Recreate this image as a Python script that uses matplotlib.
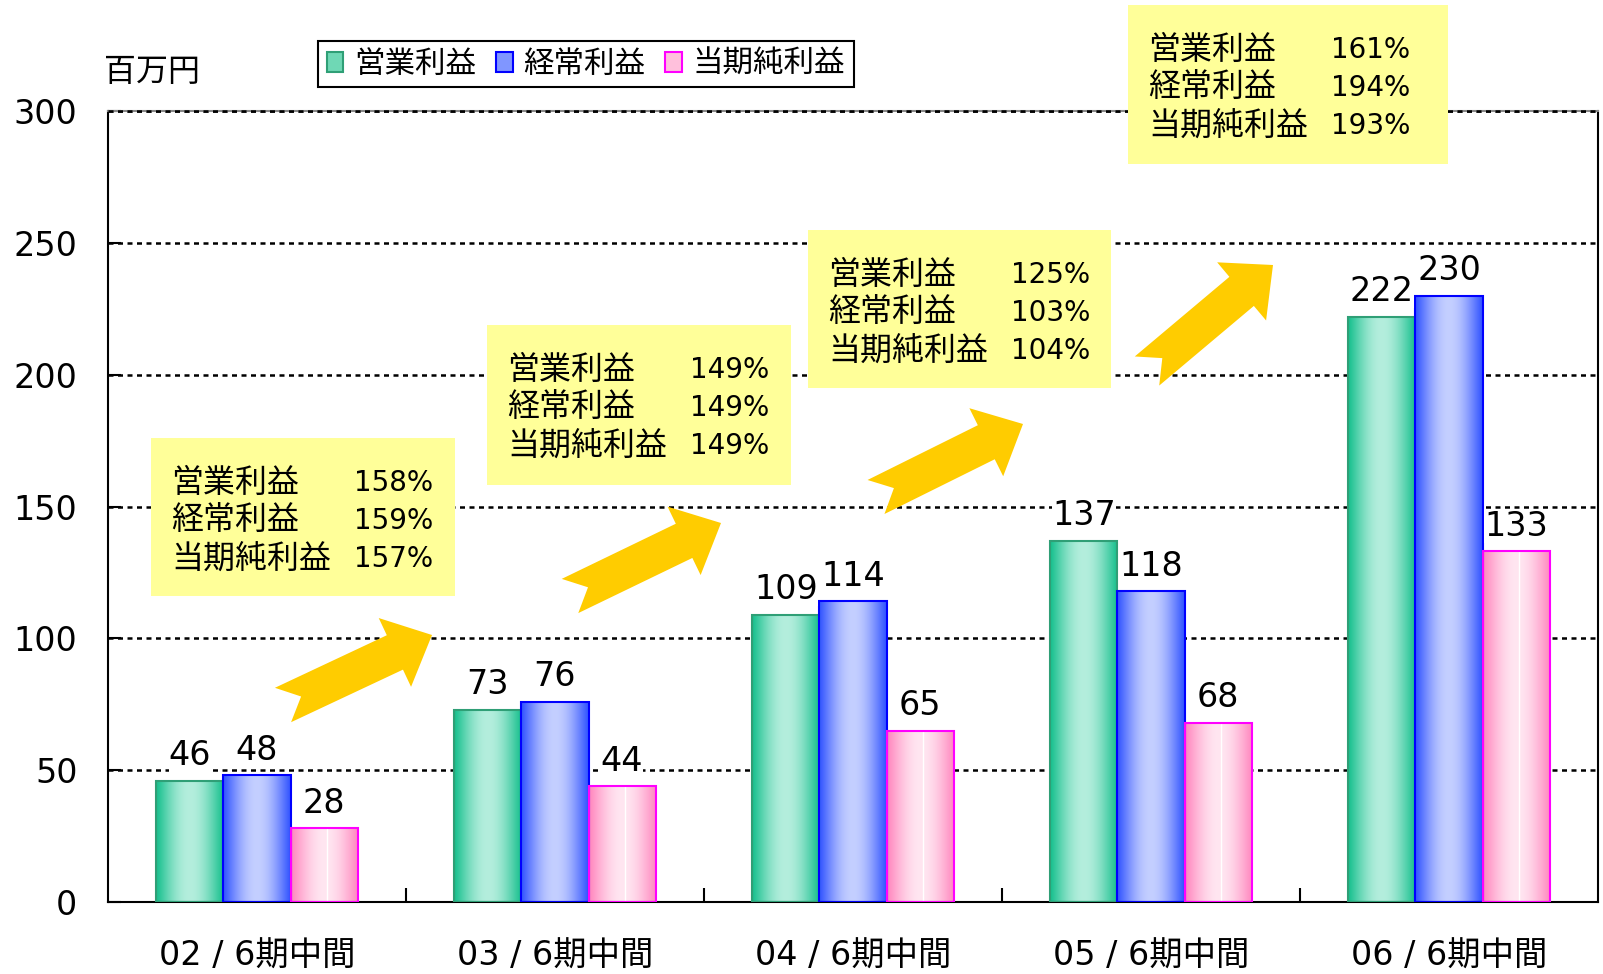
import numpy as np
import matplotlib
matplotlib.use('Agg')
import matplotlib.pyplot as plt
import matplotlib.transforms as mtrans
from matplotlib.patches import Rectangle, Polygon, Patch
from matplotlib.colors import to_rgb

plt.rcParams['font.family'] = ['DejaVu Sans', 'Noto Sans CJK JP']

# data
periods = ['02', '03', '04', '05', '06']
categories = [p + ' / 6期中間' for p in periods]
series_names = ['営業利益', '経常利益', '当期純利益']
eigyo = [46, 73, 109, 137, 222]
keijo = [48, 76, 114, 118, 230]
junri = [28, 44, 65, 68, 133]
# growth rate vs previous period (%), one box per step
growth = [[158, 159, 157], [149, 149, 149], [125, 103, 104], [161, 194, 193]]

W, H = 1603, 974
fig = plt.figure(figsize=(W / 100, H / 100), dpi=100)
ax = fig.add_axes([108 / W, 1 - 902 / H, 1490 / W, 791 / H])
# pixel coords, origin top-left
px = mtrans.Affine2D().scale(1 / W, -1 / H).translate(0, 1) + fig.transFigure

# edge, dark side, light centre
styles = [('#2f9f76', '#18c08e', '#b4eedd'),
          ('#0000ff', '#3355ff', '#c4cfff'),
          ('#ff00ff', '#ff88bf', '#ffe6f1')]
legend_fill = ['#6fd8b5', '#8096ff', '#ffc0dc']


def grad(dark, light, n=64):
    t = np.linspace(0, 1, n)
    f = np.sin(np.pi * t) ** 1.1
    d = np.array(to_rgb(dark))
    l = np.array(to_rgb(light))
    return (d + (l - d) * f[:, None])[None, :, :]


x = np.arange(len(categories))
bw = 0.225
for k, vals in enumerate([eigyo, keijo, junri]):
    edge, dark, light = styles[k]
    g = grad(dark, light)
    xs = x + (k - 1) * bw
    bars = ax.bar(xs, vals, bw, facecolor='none', edgecolor=edge, linewidth=1.5, zorder=3)
    for b in bars:
        x0 = b.get_x()
        ax.imshow(g, extent=[x0, x0 + bw, 0, b.get_height()], aspect='auto',
                  interpolation='bilinear', zorder=2)
    if k == 2:
        ax.vlines(xs + bw * 0.05, 0, vals, color='white', linewidth=1, zorder=2.5)
    for xi, v in zip(xs, vals):
        ax.annotate(str(v), (xi, v), xytext=(0, 11), textcoords='offset points',
                    ha='center', va='baseline', fontsize=24, zorder=4,
                    bbox=dict(facecolor='white', edgecolor='none', pad=0))

ax.set_xlim(-0.5, len(categories) - 0.5)
ax.set_ylim(0, 300)
ax.set_yticks(range(0, 301, 50))
ax.tick_params(axis='y', direction='in', length=9, width=1.5, labelsize=24, pad=22)
ax.set_xticks(x)
ax.set_xticklabels(categories)
ax.set_xticks(x[:-1] + 0.5, minor=True)
ax.tick_params(axis='x', which='major', length=0, labelsize=24, pad=27)
ax.tick_params(axis='x', which='minor', direction='in', length=10, width=1.5)
ax.set_axisbelow(True)
dots = (0, (2, 1.8))
ax.yaxis.grid(True, color='black', linestyle=dots, linewidth=1.8)
for s in ax.spines.values():
    s.set_linewidth(1.5)
ax.spines['top'].set_color('#888888')
ax.axhline(300, color='black', linestyle=dots, linewidth=1.8, clip_on=False, zorder=2.7)

fig.text(104, 72, '百万円', transform=px, fontsize=23, va='center', ha='left')

handles = [Patch(facecolor=legend_fill[i], edgecolor=styles[i][0], linewidth=1.5) for i in range(3)]
leg = fig.legend(handles, series_names, loc='upper left', bbox_to_anchor=(318 / W, 1 - 41 / H),
                 borderaxespad=0, ncol=3, fontsize=22, frameon=True, fancybox=False,
                 edgecolor='black', framealpha=1, handlelength=0.55, handleheight=0.65,
                 handletextpad=0.35, columnspacing=0.65, borderpad=0.28)
leg.get_frame().set_linewidth(1.5)

# yellow growth boxes
boxes = [(151, 438, 304, 158), (487, 325, 304, 160), (808, 230, 303, 158), (1128, 5, 320, 159)]
for (bx, by, bwid, bh), vals in zip(boxes, growth):
    fig.add_artist(Rectangle((bx, by), bwid, bh, transform=px, facecolor='#ffff99',
                             edgecolor='none', zorder=5))
    for r, (name, v) in enumerate(zip(series_names, vals)):
        yy = by + 45 + 38 * r
        fig.text(bx + 20, yy, name, transform=px, fontsize=23, va='center', ha='left', zorder=6)
        fig.text(bx + 203, yy, f'{v}%', transform=px, fontsize=20, va='center', ha='left', zorder=6)


def notched_arrow(tail, tip, w=19, hw=38, hl=41, nd=20):
    tail = np.array(tail, float)
    tip = np.array(tip, float)
    d = tip - tail
    L = np.hypot(*d)
    u = d / L
    n = np.array([-u[1], u[0]])
    local = [(0, w), (nd, 0), (0, -w), (L - hl, -w), (L - hl, -hw), (L, 0), (L - hl, hw), (L - hl, w)]
    return [tail + a * u + b * n for a, b in local]


arrows = [((283, 705), (432, 635)), ((570, 596), (721, 523)),
          ((876, 497), (1023, 424)), ((1147, 371), (1273, 265))]
for tail, tip in arrows:
    fig.add_artist(Polygon(notched_arrow(tail, tip), closed=True, transform=px,
                           facecolor='#ffcc00', edgecolor='none', zorder=5))

fig.savefig('out.png', dpi=100)
